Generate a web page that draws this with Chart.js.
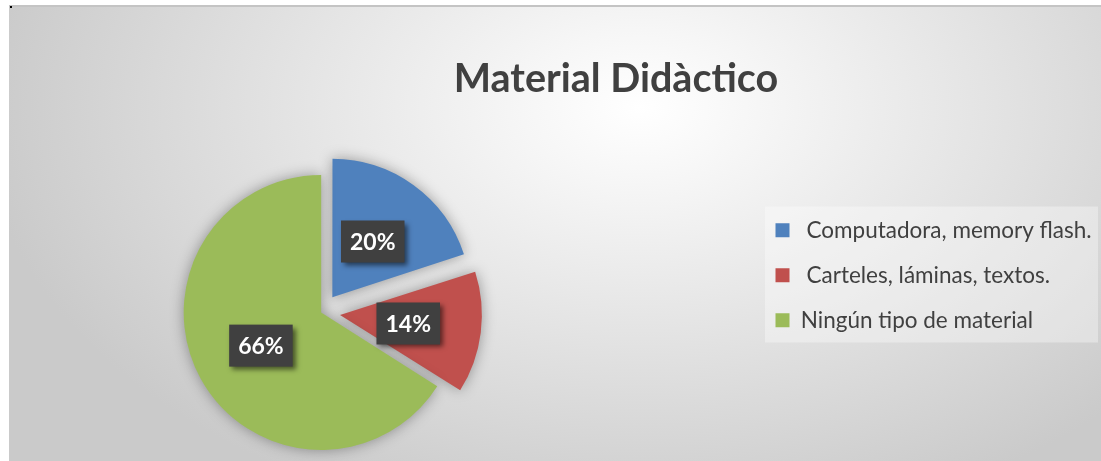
<!DOCTYPE html>
<html>
<head>
<meta charset="utf-8">
<script src="https://cdn.jsdelivr.net/npm/chart.js@4.4.1/dist/chart.umd.min.js"></script>
<style>
  html, body { margin: 0; padding: 0; background: #fff; overflow: hidden; }
  #frame {
    position: absolute; left: 9px; top: 5px; width: 1092px; height: 456px;
    box-sizing: border-box; border-top: 2px solid #c4c4c4;
    background: radial-gradient(ellipse 660px 430px at 631px 100px, #ffffff 0%, #f6f6f6 18%, #e4e4e4 52%, #cacaca 100%);
  }
  #dot { position: absolute; left: 10px; top: 6px; width: 2px; height: 2px; background: #000; }
  #materialChart { position: absolute; left: 0; top: 0; }
</style>
</head>
<body>
<div id="frame"></div>
<div id="dot"></div>
<canvas id="materialChart" width="1101" height="461"></canvas>
<script>
const categorias = [' Computadora, memory flash.', ' Carteles, láminas, textos.', 'Ningún tipo de material'];
const porcentajes = [20, 14, 66];
const colores = ['#4F81BD', '#C0504D', '#9BBB59'];

Chart.defaults.font.family = 'Lato, "Open Sans", sans-serif';
Chart.defaults.color = '#404040';

// moves title / legend where the original had them, plus shadows and the % boxes
const acomodo = {
  id: 'acomodo',
  afterLayout(chart, args, opts) {
    const t = chart.titleBlock;
    const tw = t.right - t.left;
    t.left = opts.titleCenter - tw / 2;
    t.right = t.left + tw;

    const l = chart.legend;
    const lw = l.right - l.left, lh = l.bottom - l.top;
    l.left = opts.legendLeft;
    l.right = l.left + lw;
    l.top = opts.legendTop;
    l.bottom = l.top + lh;
  },
  beforeDraw(chart, args, opts) {
    const l = chart.legend;
    const ctx = chart.ctx;
    const x0 = opts.legendBox[0];
    ctx.save();
    ctx.fillStyle = opts.legendFill;
    ctx.fillRect(x0, l.top + 10, chart.width - 3 - x0, 136);
    ctx.restore();
  },
  beforeDatasetsDraw(chart) {
    const ctx = chart.ctx;
    ctx.save();
    ctx.shadowColor = 'rgba(0,0,0,0.35)';
    ctx.shadowBlur = 14;
  },
  afterDatasetsDraw(chart) {
    const ctx = chart.ctx;
    ctx.restore();
    const meta = chart.getDatasetMeta(0);
    ctx.font = 'bold 23px Lato';
    meta.data.forEach((arc, i) => {
      const mid = (arc.startAngle + arc.endAngle) / 2;
      const d = arc.outerRadius / 2 + (arc.options.offset || 0) / 4;
      const cx = arc.x + Math.cos(mid) * d;
      const cy = arc.y + Math.sin(mid) * d;
      const text = porcentajes[i] + '%';
      const w = ctx.measureText(text).width + 18, h = 42;
      ctx.save();
      ctx.shadowColor = 'rgba(0,0,0,0.55)';
      ctx.shadowBlur = 5;
      ctx.shadowOffsetX = 3;
      ctx.shadowOffsetY = 3;
      ctx.fillStyle = '#404040';
      ctx.fillRect(cx - w / 2, cy - h / 2, w, h);
      ctx.restore();
      ctx.fillStyle = '#ffffff';
      ctx.textAlign = 'center';
      ctx.textBaseline = 'middle';
      ctx.fillText(text, cx, cy + 1);
    });
  }
};

new Chart(document.getElementById('materialChart'), {
  type: 'pie',
  data: {
    labels: categorias,
    datasets: [{
      data: porcentajes,
      backgroundColor: colores,
      borderWidth: 0,
      offset: [76, 76, 0]
    }]
  },
  plugins: [acomodo],
  options: {
    responsive: false,
    animation: false,
    radius: 137.5,
    layout: { padding: { left: 0, right: 110, top: 0, bottom: 0 } },
    plugins: {
      title: {
        display: true,
        text: 'Material Didàctico',
        color: '#404040',
        font: { size: 39.5, weight: 'bold' },
        padding: { top: 55.8, bottom: 60.8 }
      },
      legend: {
        position: 'right',
        align: 'start',
        labels: {
          boxWidth: 14,
          boxHeight: 14,
          padding: 22.5,
          color: '#404040',
          font: { size: 22.5 }
        }
      },
      tooltip: { enabled: false },
      acomodo: {
        titleCenter: 616,
        legendLeft: 753,
        legendTop: 196.5,
        legendBox: [765],
        legendFill: 'rgba(255,255,255,0.35)'
      }
    }
  }
});
</script>
</body>
</html>
